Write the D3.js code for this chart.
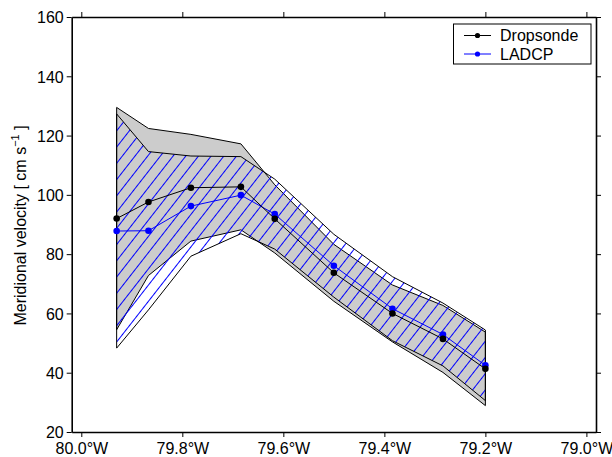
<!DOCTYPE html>
<html>
<head>
<meta charset="utf-8">
<script src="https://cdn.jsdelivr.net/npm/d3@7"></script>
<style>
  body { margin: 0; background: #fff; }
  svg { display: block; font-family: "Liberation Sans", Arial, sans-serif; }
</style>
</head>
<body>
<svg id="chart" width="612" height="457"></svg>
<script>
// station longitudes (deg E, i.e. negative = W)
var station_lon = [-79.930, -79.867, -79.783, -79.684, -79.617, -79.500, -79.384, -79.284, -79.200];

// meridional velocity, cm/s
var dropsonde_v = [92.0, 97.6, 102.4, 102.7, 91.9, 73.7, 60.0, 51.4, 41.3];
var ladcp_v     = [87.8, 87.9, 96.2, 99.9, 93.5, 76.1, 61.6, 52.9, 42.5];

// half widths of the uncertainty envelopes
var dropsonde_err = [37.5, 24.8, 18.0, 14.5, 11.5, 9.6, 9.6, 11.3, 12.4];
var ladcp_err     = [39.5, 26.7, 16.9, 13.0, 11.8, 10.6, 10.8, 10.6, 11.9];

var lon_ticks = [-80.0, -79.8, -79.6, -79.4, -79.2, -79.0];
var v_ticks = [20, 40, 60, 80, 100, 120, 140, 160];

var legend_names = ["Dropsonde", "LADCP"];
var legend_colors = ["#000000", "#0000ff"];

function draw_chart(){
    var svg = d3.select("#chart");
    var margin = {top: 17, right: 16, bottom: 25, left: 71.7},
        width = 612 - margin.left - margin.right,
        height = 457 - margin.top - margin.bottom;

    svg.selectAll("*").remove();

    // hatch pattern for the LADCP envelope
    var defs = svg.append("defs");
    var pat = defs.append("pattern")
        .attr("id", "hatch")
        .attr("patternUnits", "userSpaceOnUse")
        .attr("width", 10)
        .attr("height", 20)
        .attr("patternTransform", "rotate(38)");
    pat.append("line")
        .attr("x1", 5).attr("y1", -1)
        .attr("x2", 5).attr("y2", 21)
        .attr("stroke", "#0000ff")
        .attr("stroke-width", 1)
        .attr("shape-rendering", "crispEdges");

    var g = svg.append("g")
        .attr("transform", "translate(" + margin.left + "," + margin.top + ")");

    var x = d3.scaleLinear()
      .domain([-80.019, -78.981])
      .range([0, width]);
    var y = d3.scaleLinear()
      .domain([20, 160])
      .range([height, 0]);

    var rows = station_lon.map(function(lon, i){
        return {lon: lon, d: dropsonde_v[i], l: ladcp_v[i],
                de: dropsonde_err[i], le: ladcp_err[i]};
    });

    // gray envelope (dropsonde)
    var area_d = d3.area()
        .x(function(r){ return x(r.lon); })
        .y0(function(r){ return y(r.d - r.de); })
        .y1(function(r){ return y(r.d + r.de); });
    g.append("path")
        .attr("d", area_d(rows) + "Z")
        .attr("fill", "#cccccc")
        .attr("stroke", "#000")
        .attr("stroke-width", 1)
        .attr("stroke-linejoin", "round");

    // hatched envelope (LADCP)
    var area_l = d3.area()
        .x(function(r){ return x(r.lon); })
        .y0(function(r){ return y(r.l - r.le); })
        .y1(function(r){ return y(r.l + r.le); });
    g.append("path")
        .attr("d", area_l(rows) + "Z")
        .attr("fill", "url(#hatch)")
        .attr("stroke", "#000")
        .attr("stroke-width", 1)
        .attr("stroke-linejoin", "round");

    // lines + dots
    var series = [
        {key: "l", color: "#0000ff"},
        {key: "d", color: "#000000"}
    ];
    series.forEach(function(s){
        var line = d3.line()
            .x(function(r){ return x(r.lon); })
            .y(function(r){ return y(r[s.key]); });
        g.append("path")
            .attr("d", line(rows))
            .attr("fill", "none")
            .attr("stroke", s.color)
            .attr("stroke-width", 1);
        g.selectAll(null)
            .data(rows)
            .enter().append("circle")
            .attr("cx", function(r){ return x(r.lon); })
            .attr("cy", function(r){ return y(r[s.key]); })
            .attr("r", 3.3)
            .attr("fill", s.color);
    });

    // frame with outward ticks on all four sides
    var fmt = function(d){ return Math.abs(d).toFixed(1) + "\u00b0W"; };
    var ax_b = g.append("g")
      .attr("transform", "translate(0," + height + ")")
      .call(d3.axisBottom(x).tickValues(lon_ticks).tickFormat(fmt).tickSize(5).tickSizeOuter(0));
    var ax_t = g.append("g")
      .call(d3.axisTop(x).tickValues(lon_ticks).tickFormat("").tickSize(5).tickSizeOuter(0));
    var ax_l = g.append("g")
      .call(d3.axisLeft(y).tickValues(v_ticks).tickSize(5).tickSizeOuter(0));
    var ax_r = g.append("g")
      .attr("transform", "translate(" + width + ",0)")
      .call(d3.axisRight(y).tickValues(v_ticks).tickFormat("").tickSize(5).tickSizeOuter(0));

    [ax_b, ax_t, ax_l, ax_r].forEach(function(a){
        a.select(".domain").attr("stroke-width", 1.6);
        a.selectAll(".tick line").attr("stroke-width", 1);
        a.selectAll("text")
            .attr("font-family", "'Liberation Sans', Arial, sans-serif")
            .attr("font-size", 16)
            .attr("fill", "#000");
    });
    ax_b.selectAll("text").attr("dy", "1.02em").attr("y", 6);
    ax_l.selectAll("text").attr("x", -8).attr("dy", "0.36em");

    // y label
    var ylab = svg.append("text")
        .attr("transform", "translate(26," + (margin.top + height / 2 + 1) + ") rotate(-90)")
        .attr("text-anchor", "middle")
        .attr("font-size", 16)
        .attr("fill", "#000");
    ylab.append("tspan").text("Meridional velocity [ cm s");
    ylab.append("tspan").attr("font-size", 11).attr("dy", -7).text("\u22121");
    ylab.append("tspan").attr("dy", 7).text(" ]");

    // legend
    var leg = svg.append("g").attr("transform", "translate(453.5,24)");
    leg.append("rect")
        .attr("width", 137.5).attr("height", 40)
        .attr("fill", "#fff").attr("stroke", "#000").attr("stroke-width", 1);
    legend_names.forEach(function(name, i){
        var yy = 11.5 + i * 18.5;
        leg.append("line")
            .attr("x1", 10.5).attr("x2", 37.5)
            .attr("y1", yy).attr("y2", yy)
            .attr("stroke", legend_colors[i]).attr("stroke-width", 1);
        leg.append("circle")
            .attr("cx", 24).attr("cy", yy).attr("r", 2.6)
            .attr("fill", legend_colors[i]);
        leg.append("text")
            .attr("x", 46.5).attr("y", yy).attr("dy", "0.36em")
            .attr("font-size", 16).attr("fill", "#000")
            .text(name);
    });
}

draw_chart();
</script>
</body>
</html>
